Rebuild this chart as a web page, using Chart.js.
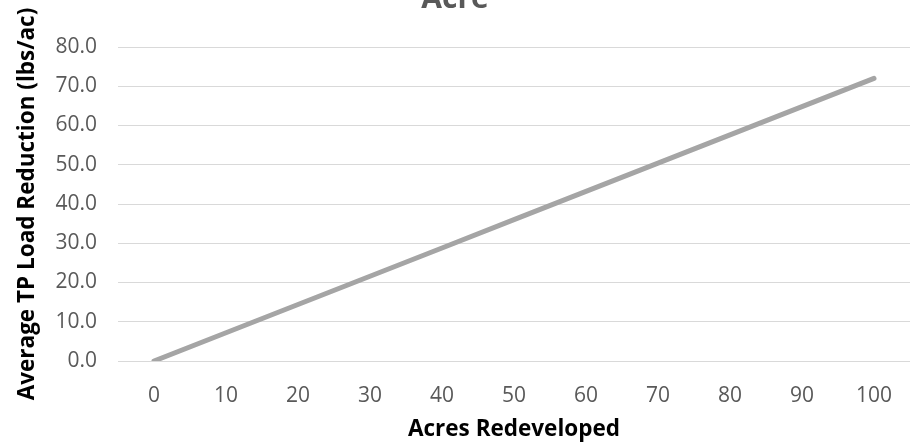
<!DOCTYPE html>
<html>
<head>
<meta charset="utf-8">
<script src="https://cdn.jsdelivr.net/npm/chart.js@4.4.1/dist/chart.umd.min.js"></script>
<style>
  html, body { margin: 0; padding: 0; background: #ffffff; overflow: hidden; }
  #wrap { position: absolute; left: 0; top: -19px; width: 914px; height: 466px; }
</style>
</head>
<body>
<div id="wrap"><canvas id="chart"></canvas></div>
<script>
// Acres redeveloped (x categories)
const acres = ['0', '10', '20', '30', '40', '50', '60', '70', '80', '90', '100'];
// Average TP load reduction, lbs/ac
const tpReduction = [0.0, 7.2, 14.4, 21.6, 28.8, 36.0, 43.2, 50.4, 57.6, 64.8, 72.0];
// Value axis range
const yMin = 0;
const yMax = 80;
const yStep = 10;

const chartTitle = 'Acre';
const xTitle = 'Acres Redeveloped';
const yTitle = 'Average TP Load Reduction (lbs/ac)';

const FONT = "'Open Sans', 'Liberation Sans', sans-serif";

new Chart(document.getElementById('chart'), {
  type: 'line',
  data: {
    labels: acres,
    datasets: [{
      data: tpReduction,
      borderColor: '#a5a5a5',
      borderWidth: 5,
      borderCapStyle: 'round',
      pointRadius: 0,
      tension: 0,
      fill: false
    }]
  },
  options: {
    responsive: true,
    maintainAspectRatio: false,
    animation: false,
    layout: { padding: { left: 0, right: 4, top: 0, bottom: 0 } },
    plugins: {
      legend: { display: false },
      tooltip: { enabled: false },
      title: {
        display: true,
        text: chartTitle,
        color: '#595959',
        font: { family: FONT, size: 30, weight: 'bold' },
        padding: { top: 0, bottom: 30 }
      }
    },
    scales: {
      x: {
        offset: true,
        grid: { display: false },
        border: { display: false },
        ticks: {
          color: '#595959',
          font: { family: FONT, size: 21 },
          padding: 14,
          maxRotation: 0
        },
        title: {
          display: true,
          text: xTitle,
          color: '#000000',
          font: { family: FONT, size: 22.5, weight: 'bold' },
          padding: { top: 0, bottom: 3.5 }
        },
        afterFit: (s) => { s.height = 86; }
      },
      y: {
        min: yMin,
        max: yMax,
        grid: { color: '#d9d9d9', lineWidth: 1, drawTicks: false },
        border: { display: false },
        ticks: {
          stepSize: yStep,
          color: '#595959',
          font: { family: FONT, size: 21 },
          padding: 21,
          callback: (v) => Number(v).toFixed(1)
        },
        title: {
          display: true,
          text: yTitle,
          color: '#000000',
          font: { family: FONT, size: 22.5, weight: 'bold' },
          padding: { top: 14, bottom: 0 }
        },
        afterFit: (s) => { s.width = 118; }
      }
    }
  }
});
</script>
</body>
</html>
